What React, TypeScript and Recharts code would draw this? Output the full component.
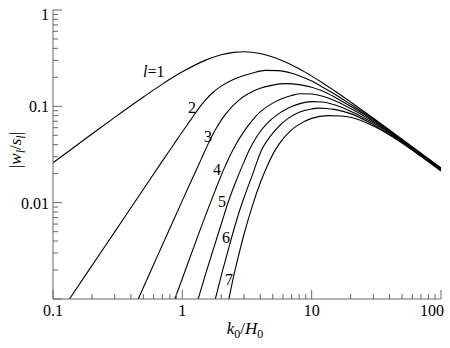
import { LineChart, Line, XAxis, YAxis } from 'recharts'

// wavenumber k0/H0 and |w_l/s_l|, one pair of arrays per multipole l
const kL1 = [0.1, 0.15, 0.2, 0.3, 0.5, 0.7, 1, 1.5, 2, 2.5, 3, 4, 5, 6, 7, 8, 10, 12, 15, 20, 30, 50, 70, 100]
const wL1 = [0.026, 0.0388, 0.0516, 0.0769, 0.125, 0.17, 0.228, 0.3, 0.343, 0.363, 0.368, 0.353, 0.325, 0.296, 0.269, 0.245, 0.206, 0.177, 0.145, 0.111, 0.0753, 0.0455, 0.0326, 0.0229]

const kL2 = [0.134, 0.2, 0.3, 0.5, 0.7, 0.85, 1, 1.15, 1.33, 1.5, 1.73, 2, 2.5, 3, 3.5, 4.4, 5.5, 7, 8, 10, 12, 15, 20, 30, 50, 70, 100]
const wL2 = [0.001, 0.00222, 0.00497, 0.0138, 0.027, 0.0395, 0.0545, 0.071, 0.094, 0.115, 0.14, 0.162, 0.191, 0.209, 0.222, 0.236, 0.235, 0.221, 0.208, 0.183, 0.16, 0.134, 0.105, 0.0735, 0.0449, 0.0322, 0.0227]

const kL3 = [0.456, 0.6, 0.8, 1, 1.2, 1.4, 1.6, 1.8, 2, 2.3, 2.7, 3.2, 4, 5, 6.3, 8, 10, 12, 15, 20, 30, 50, 70, 100]
const wL3 = [0.001, 0.00228, 0.0054, 0.0105, 0.018, 0.0283, 0.042, 0.057, 0.072, 0.092, 0.114, 0.134, 0.154, 0.166, 0.172, 0.168, 0.158, 0.145, 0.125, 0.1, 0.0715, 0.0442, 0.0318, 0.0225]

const kL4 = [0.875, 1, 1.2, 1.4, 1.6, 1.8, 2.07, 2.3, 2.6, 3, 3.5, 4, 5, 6, 7, 8.2, 10, 12, 15, 20, 30, 50, 70, 100]
const wL4 = [0.001, 0.00163, 0.0032, 0.0056, 0.009, 0.0135, 0.0215, 0.0295, 0.0405, 0.055, 0.0725, 0.0875, 0.108, 0.121, 0.1295, 0.135, 0.1345, 0.128, 0.115, 0.095, 0.0695, 0.0436, 0.0314, 0.0222]

const kL5 = [1.325, 1.5, 1.75, 2, 2.26, 2.6, 3, 3.32, 3.8, 4.5, 5.5, 6.5, 8, 10, 12, 15, 20, 30, 50, 70, 100]
const wL5 = [0.001, 0.00175, 0.0034, 0.006, 0.0101, 0.0167, 0.0265, 0.036, 0.0495, 0.066, 0.083, 0.095, 0.106, 0.112, 0.111, 0.104, 0.089, 0.067, 0.043, 0.031, 0.0219]

const kL6 = [1.8, 2, 2.2, 2.4, 2.7, 3, 3.5, 4.09, 4.8, 5.5, 6.5, 8, 10, 11.3, 13, 15, 20, 30, 50, 70, 100]
const wL6 = [0.001, 0.00175, 0.0028, 0.0043, 0.0074, 0.0113, 0.0198, 0.035, 0.049, 0.061, 0.074, 0.087, 0.094, 0.0957, 0.095, 0.093, 0.084, 0.0645, 0.0423, 0.0306, 0.0216]

const kL7 = [2.29, 2.47, 2.7, 3, 3.5, 4, 4.5, 5.18, 6, 7, 8, 10, 13.3, 17, 20, 30, 50, 70, 100]
const wL7 = [0.001, 0.00163, 0.0027, 0.0047, 0.0095, 0.016, 0.0235, 0.0345, 0.046, 0.057, 0.065, 0.075, 0.08, 0.0795, 0.077, 0.0625, 0.0416, 0.0302, 0.0213]

const xTicks = [0.1, 0.2, 0.3, 0.4, 0.5, 0.6, 0.7, 0.8, 0.9, 1, 2, 3, 4, 5, 6, 7, 8, 9, 10, 20, 30, 40, 50, 60, 70, 80, 90, 100]
const xLabels = ['0.1', '1', '10', '100']
const yTicks = [0.001, 0.002, 0.003, 0.004, 0.005, 0.006, 0.007, 0.008, 0.009, 0.01, 0.02, 0.03, 0.04, 0.05, 0.06, 0.07, 0.08, 0.09, 0.1, 0.2, 0.3, 0.4, 0.5, 0.6, 0.7, 0.8, 0.9, 1]
const yLabels = ['0.01', '0.1', '1']

const curves = [
  { key: 'l1', k: kL1, w: wL1 },
  { key: 'l2', k: kL2, w: wL2 },
  { key: 'l3', k: kL3, w: wL3 },
  { key: 'l4', k: kL4, w: wL4 },
  { key: 'l5', k: kL5, w: wL5 },
  { key: 'l6', k: kL6, w: wL6 },
  { key: 'l7', k: kL7, w: wL7 },
]

// merge every curve onto one sorted k table, gaps are bridged with connectNulls
const rows = new Map<number, Record<string, number>>()
for (const c of curves) {
  c.k.forEach((k, i) => {
    const row = rows.get(k) ?? { k }
    row[c.key] = c.w[i]
    rows.set(k, row)
  })
}
const chartData = Array.from(rows.values()).sort((a, b) => a.k - b.k)

const FONT = 'Liberation Serif, Tinos, Times New Roman, DejaVu Serif, serif'
const AXIS = '#666'
const MAJOR = 9
const MINOR = 5

const isMajor = (v: number) => Math.abs(Math.log10(v) - Math.round(Math.log10(v))) < 1e-6

function BottomTick({ x, y, payload }: any) {
  const v = payload.value
  const major = isMajor(v)
  const label = xLabels.find((s) => Number(s) === v)
  const last = v === 100
  return (
    <g>
      <line x1={x} x2={x} y1={y} y2={y - (major ? MAJOR : MINOR)} stroke={AXIS} />
      {label && (
        <text x={last ? x + 3 : x} y={y + 17} textAnchor={last ? 'end' : 'middle'} style={{ fontFamily: FONT }} fontSize={16} fill="#000">
          {label}
        </text>
      )}
    </g>
  )
}

function TopTick({ x, y, payload }: any) {
  const len = isMajor(payload.value) ? MAJOR : MINOR
  return <line x1={x} x2={x} y1={y} y2={y + len} stroke={AXIS} />
}

function LeftTick({ x, y, payload }: any) {
  const v = payload.value
  const major = isMajor(v)
  const label = yLabels.find((s) => Number(s) === v)
  return (
    <g>
      <line x1={x} x2={x + (major ? MAJOR : MINOR)} y1={y} y2={y} stroke={AXIS} />
      {label && (
        <text x={x - 4} y={v === 1 ? y + 10 : y + 6} textAnchor="end" style={{ fontFamily: FONT }} fontSize={16} fill="#000">
          {label}
        </text>
      )}
    </g>
  )
}

function RightTick({ x, y, payload }: any) {
  const len = isMajor(payload.value) ? MAJOR : MINOR
  return <line x1={x} x2={x - len} y1={y} y2={y} stroke={AXIS} />
}

export default function App() {
  return (
    <div style={{ position: 'absolute', left: 0, top: 0, width: 450, height: 348, background: '#fff' }}>
      <LineChart width={450} height={348} data={chartData} margin={{ top: 10, right: 9, bottom: 0, left: 0 }}>
        <XAxis
          dataKey="k"
          type="number"
          scale="log"
          domain={[0.1, 100]}
          allowDataOverflow
          ticks={xTicks}
          interval={0}
          height={49}
          tickSize={0}
          tickMargin={0}
          stroke={AXIS}
          tick={<BottomTick />}
        />
        <XAxis
          xAxisId="top"
          orientation="top"
          dataKey="k"
          type="number"
          scale="log"
          domain={[0.1, 100]}
          allowDataOverflow
          ticks={xTicks}
          interval={0}
          height={0}
          tickSize={0}
          tickMargin={0}
          stroke={AXIS}
          tick={<TopTick />}
        />
        <YAxis
          type="number"
          scale="log"
          domain={[0.001, 1]}
          allowDataOverflow
          ticks={yTicks}
          interval={0}
          width={53}
          tickSize={0}
          tickMargin={0}
          stroke={AXIS}
          tick={<LeftTick />}
        />
        <YAxis
          yAxisId="right"
          orientation="right"
          type="number"
          scale="log"
          domain={[0.001, 1]}
          allowDataOverflow
          ticks={yTicks}
          interval={0}
          width={0}
          tickSize={0}
          tickMargin={0}
          stroke={AXIS}
          tick={<RightTick />}
        />
        {curves.map((c) => (
          <Line
            key={c.key}
            dataKey={c.key}
            type="monotone"
            stroke="#000"
            strokeWidth={1.1}
            dot={false}
            connectNulls
            isAnimationActive={false}
          />
        ))}
      </LineChart>
      <svg width={450} height={348} style={{ position: 'absolute', left: 0, top: 0, pointerEvents: 'none', fontFamily: FONT }}>
        <g fontSize={16} fill="#000">
          <text x={143} y={77}>
            <tspan fontStyle="italic">l</tspan>=1
          </text>
          <text x={188} y={113}>2</text>
          <text x={204} y={142}>3</text>
          <text x={213} y={175}>4</text>
          <text x={218} y={207}>5</text>
          <text x={222} y={243}>6</text>
          <text x={225} y={285}>7</text>
          <text x={245} y={334} textAnchor="middle" fontSize={17}>
            <tspan fontStyle="italic">k</tspan>
            <tspan fontSize={12} dy={4}>0</tspan>
            <tspan dy={-4}>/</tspan>
            <tspan fontStyle="italic">H</tspan>
            <tspan fontSize={12} dy={4}>0</tspan>
          </text>
          <text x={21} y={150} textAnchor="middle" fontSize={17} transform="rotate(-90 21 150)">
            <tspan>|</tspan>
            <tspan fontStyle="italic">w</tspan>
            <tspan fontStyle="italic" fontSize={12} dy={4}>l</tspan>
            <tspan dy={-4}>/</tspan>
            <tspan fontStyle="italic">s</tspan>
            <tspan fontStyle="italic" fontSize={12} dy={4}>l</tspan>
            <tspan dy={-4}>|</tspan>
          </text>
        </g>
      </svg>
    </div>
  )
}
